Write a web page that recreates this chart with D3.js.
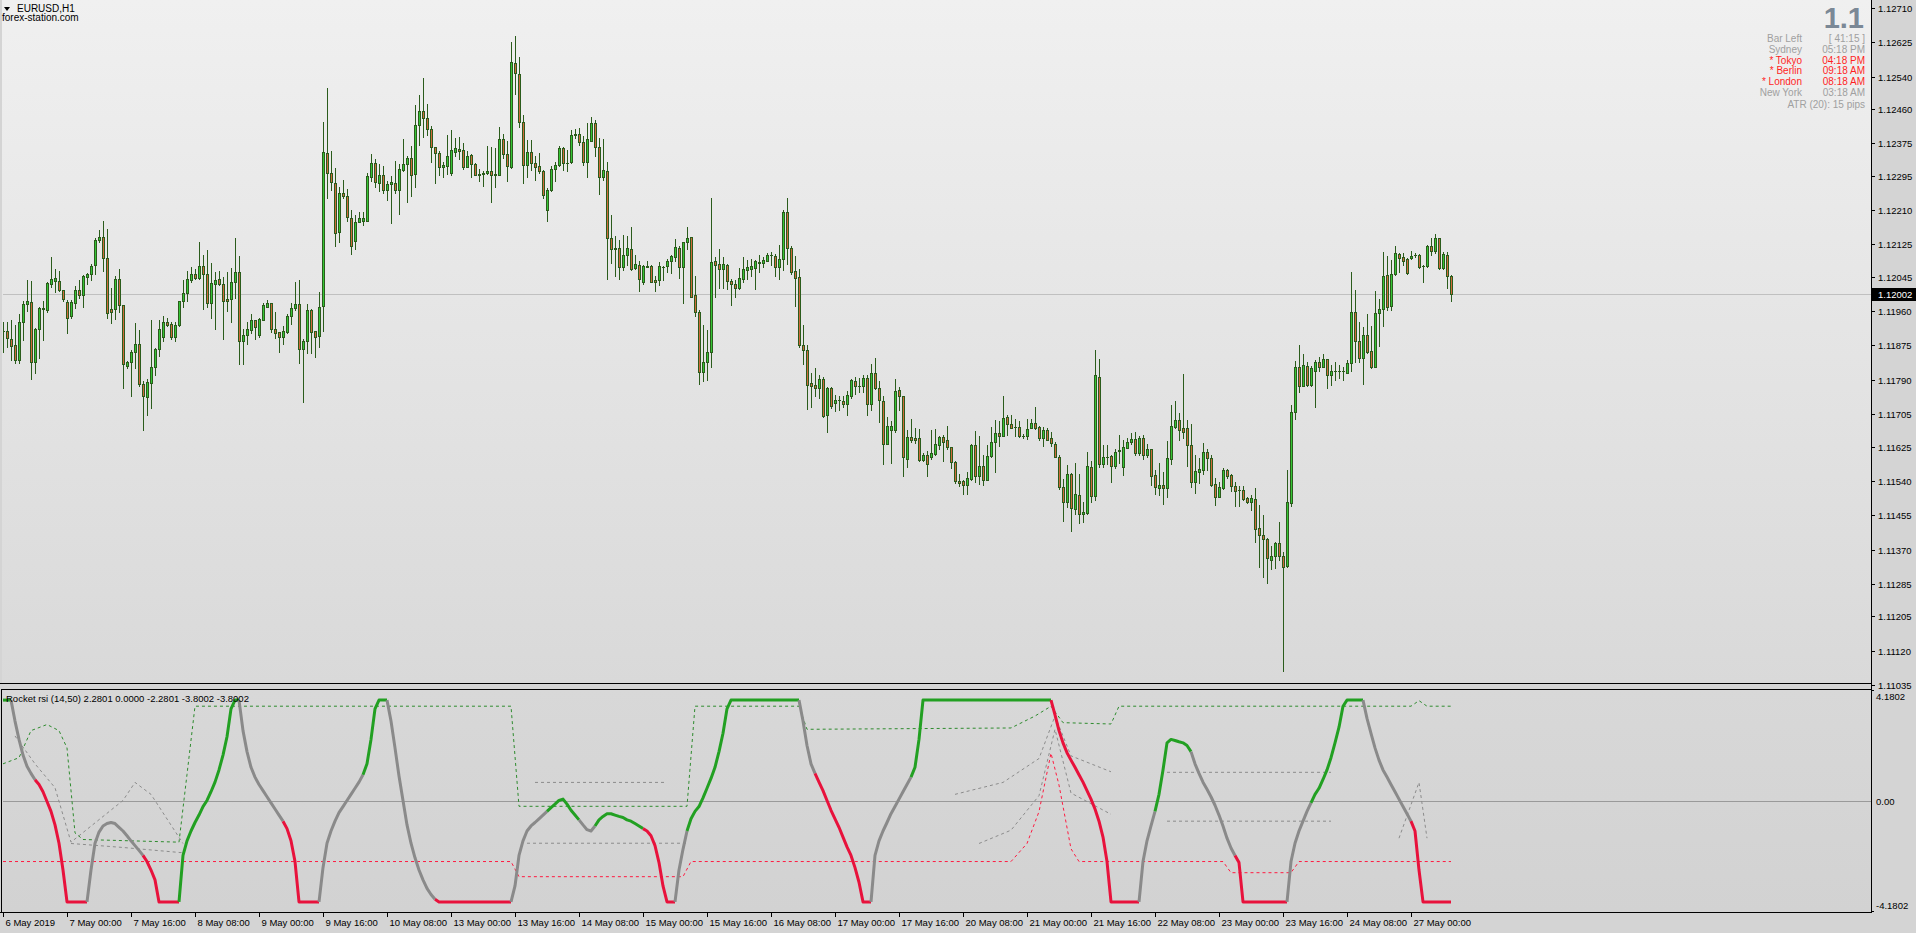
<!DOCTYPE html>
<html><head><meta charset="utf-8">
<script src="https://cdn.jsdelivr.net/npm/d3@7"></script>
<style>
html,body{margin:0;padding:0;background:#d4d4d4;overflow:hidden}
svg{display:block}
text{font-family:"Liberation Sans",Arial,sans-serif}
</style></head><body>
<svg id="c" width="1916" height="933"></svg>
<script>
// ---------------- DATA ----------------
const timeLabels = ["6 May 2019","7 May 00:00","7 May 16:00","8 May 08:00","9 May 00:00","9 May 16:00","10 May 08:00","13 May 00:00","13 May 16:00","14 May 08:00","15 May 00:00","15 May 16:00","16 May 08:00","17 May 00:00","17 May 16:00","20 May 08:00","21 May 00:00","21 May 16:00","22 May 08:00","23 May 00:00","23 May 16:00","24 May 08:00","27 May 00:00"];
const timeLabelBars = [0,16,32,48,64,80,96,112,128,144,160,176,192,208,224,240,256,272,288,304,320,336,352];
const priceTicks = [1.12710,1.12625,1.12540,1.12460,1.12375,1.12295,1.12210,1.12125,1.12045,1.11960,1.11875,1.11790,1.11705,1.11625,1.11540,1.11455,1.11370,1.11285,1.11205,1.11120,1.11035];
const priceTickLabels = ["1.12710","1.12625","1.12540","1.12460","1.12375","1.12295","1.12210","1.12125","1.12045","1.11960","1.11875","1.11790","1.11705","1.11625","1.11540","1.11455","1.11370","1.11285","1.11205","1.11120","1.11035"];
const lastPrice = 1.12002;

const open = [
1.11912,1.11912,1.11890,1.11875,1.11838,1.11934,1.11977,1.11982,1.11834,1.11915,
1.11967,1.11963,1.12027,1.12034,1.12034,1.12012,1.11982,1.11947,1.11981,1.12012,
1.11999,1.12044,1.12053,1.12073,1.12136,1.12143,1.12091,1.11965,1.11965,1.12039,
1.11975,1.11825,1.11834,1.11858,1.11878,1.11779,1.11747,1.11782,1.11821,1.11866,
1.11897,1.11933,1.11928,1.11895,1.11925,1.11984,1.12004,1.12037,1.12051,1.12041,
1.12071,1.12051,1.11980,1.12027,1.12039,1.12027,1.11990,1.11990,1.12032,1.12056,
1.11885,1.11900,1.11914,1.11938,1.11900,1.11938,1.11971,1.11980,1.11915,1.11909,
1.11897,1.11908,1.11947,1.11967,1.11977,1.11867,1.11887,1.11962,1.11910,1.11898,
1.11972,1.12351,1.12301,1.12277,1.12155,1.12252,1.12244,1.12190,1.12133,1.12180,
1.12184,1.12184,1.12293,1.12326,1.12276,1.12297,1.12259,1.12274,1.12277,1.12259,
1.12308,1.12324,1.12339,1.12299,1.12420,1.12456,1.12438,1.12410,1.12366,1.12351,
1.12316,1.12319,1.12301,1.12353,1.12361,1.12358,1.12316,1.12347,1.12324,1.12296,
1.12299,1.12301,1.12307,1.12296,1.12298,1.12386,1.12349,1.12316,1.12575,1.12547,
1.12428,1.12321,1.12353,1.12326,1.12319,1.12306,1.12210,1.12259,1.12311,1.12322,
1.12363,1.12327,1.12328,1.12395,1.12398,1.12378,1.12330,1.12382,1.12425,1.12367,
1.12293,1.12306,1.12141,1.12116,1.12116,1.12068,1.12098,1.12114,1.12066,1.12074,
1.12031,1.12069,1.12072,1.12037,1.12036,1.12069,1.12072,1.12084,1.12095,1.12116,
1.12070,1.12131,1.12143,1.12000,1.11957,1.11809,1.11835,1.11858,1.12084,1.12076,
1.12064,1.12075,1.12035,1.12027,1.12017,1.12040,1.12061,1.12065,1.12066,1.12081,
1.12079,1.12085,1.12098,1.12096,1.12070,1.12089,1.12205,1.12116,1.12060,1.12044,
1.11877,1.11863,1.11782,1.11777,1.11771,1.11792,1.11702,1.11769,1.11732,1.11739,
1.11738,1.11731,1.11749,1.11788,1.11775,1.11775,1.11794,1.11731,1.11807,1.11769,
1.11738,1.11632,1.11667,1.11667,1.11764,1.11750,1.11595,1.11648,1.11646,1.11646,
1.11591,1.11604,1.11598,1.11606,1.11629,1.11649,1.11641,1.11623,1.11586,1.11539,
1.11539,1.11529,1.11545,1.11629,1.11551,1.11576,1.11543,1.11601,1.11636,1.11658,
1.11652,1.11697,1.11681,1.11673,1.11673,1.11652,1.11650,1.11672,1.11683,1.11673,
1.11647,1.11666,1.11646,1.11632,1.11600,1.11524,1.11489,1.11557,1.11471,1.11505,
1.11458,1.11460,1.11575,1.11502,1.11798,1.11582,1.11600,1.11602,1.11576,1.11613,
1.11574,1.11622,1.11635,1.11643,1.11608,1.11646,1.11603,1.11618,1.11555,1.11522,
1.11530,1.11522,1.11593,1.11674,1.11690,1.11670,1.11670,1.11629,1.11537,1.11563,
1.11567,1.11611,1.11596,1.11532,1.11501,1.11522,1.11567,1.11554,1.11528,1.11517,
1.11517,1.11497,1.11489,1.11495,1.11423,1.11406,1.11396,1.11345,1.11353,1.11386,
1.11354,1.11330,1.11486,1.11710,1.11821,1.11776,1.11824,1.11778,1.11811,1.11833,
1.11821,1.11841,1.11802,1.11813,1.11813,1.11811,1.11808,1.11831,1.11957,1.11885,
1.11845,1.11901,1.11862,1.11823,1.11955,1.11965,1.12049,1.11972,1.12052,1.12101,
1.12094,1.12089,1.12091,1.12098,1.12099,1.12071,1.12071,1.12122,1.12108,1.12141,
1.12066,1.12099,1.12046];
const high = [
1.11934,1.11934,1.11938,1.11926,1.11953,1.11984,1.12037,1.12035,1.11918,1.11969,
1.11984,1.12033,1.12094,1.12065,1.12060,1.12013,1.11988,1.11987,1.12023,1.12037,
1.12050,1.12055,1.12076,1.12140,1.12161,1.12182,1.12164,1.12017,1.12046,1.12065,
1.11975,1.11837,1.11864,1.11931,1.11914,1.11787,1.11792,1.11938,1.11868,1.11938,
1.11949,1.11942,1.11933,1.11932,1.11984,1.12038,1.12060,1.12068,1.12064,1.12130,
1.12099,1.12112,1.12079,1.12058,1.12060,1.12044,1.12058,1.12066,1.12140,1.12097,
1.11916,1.11934,1.11953,1.11938,1.11942,1.11981,1.11987,1.11981,1.11957,1.11909,
1.11923,1.11952,1.11979,1.12033,1.12036,1.11891,1.11978,1.11965,1.11911,1.12008,
1.12429,1.12513,1.12357,1.12315,1.12268,1.12285,1.12263,1.12211,1.12198,1.12206,
1.12206,1.12301,1.12349,1.12337,1.12324,1.12320,1.12281,1.12295,1.12332,1.12324,
1.12386,1.12343,1.12369,1.12471,1.12495,1.12537,1.12473,1.12417,1.12367,1.12355,
1.12330,1.12396,1.12409,1.12388,1.12390,1.12376,1.12355,1.12349,1.12326,1.12311,
1.12307,1.12369,1.12365,1.12364,1.12415,1.12398,1.12380,1.12626,1.12640,1.12589,
1.12446,1.12384,1.12384,1.12343,1.12351,1.12310,1.12264,1.12320,1.12330,1.12369,
1.12367,1.12358,1.12409,1.12410,1.12413,1.12394,1.12425,1.12440,1.12433,1.12388,
1.12386,1.12329,1.12198,1.12146,1.12136,1.12149,1.12145,1.12169,1.12099,1.12085,
1.12075,1.12085,1.12075,1.12046,1.12081,1.12071,1.12089,1.12099,1.12138,1.12122,
1.12132,1.12169,1.12143,1.12047,1.11963,1.11926,1.11914,1.12240,1.12094,1.12114,
1.12095,1.12077,1.12039,1.12037,1.12066,1.12095,1.12087,1.12089,1.12087,1.12098,
1.12093,1.12103,1.12106,1.12101,1.12124,1.12211,1.12240,1.12122,1.12097,1.12065,
1.11926,1.11875,1.11806,1.11819,1.11801,1.11798,1.11773,1.11772,1.11752,1.11751,
1.11751,1.11762,1.11792,1.11798,1.11794,1.11802,1.11802,1.11830,1.11844,1.11787,
1.11749,1.11699,1.11689,1.11792,1.11773,1.11750,1.11666,1.11693,1.11671,1.11669,
1.11610,1.11613,1.11666,1.11668,1.11651,1.11654,1.11675,1.11625,1.11590,1.11557,
1.11542,1.11563,1.11631,1.11664,1.11651,1.11603,1.11629,1.11673,1.11691,1.11689,
1.11750,1.11703,1.11702,1.11693,1.11687,1.11656,1.11693,1.11693,1.11722,1.11676,
1.11673,1.11670,1.11660,1.11635,1.11603,1.11545,1.11579,1.11559,1.11584,1.11557,
1.11487,1.11611,1.11588,1.11864,1.11842,1.11629,1.11629,1.11604,1.11619,1.11654,
1.11640,1.11646,1.11658,1.11660,1.11652,1.11654,1.11632,1.11619,1.11567,1.11584,
1.11563,1.11639,1.11728,1.11738,1.11707,1.11804,1.11691,1.11681,1.11604,1.11596,
1.11633,1.11619,1.11603,1.11547,1.11538,1.11571,1.11570,1.11557,1.11538,1.11528,
1.11528,1.11501,1.11505,1.11522,1.11481,1.11456,1.11398,1.11379,1.11390,1.11439,
1.11363,1.11567,1.11728,1.11837,1.11877,1.11854,1.11835,1.11825,1.11840,1.11847,
1.11854,1.11842,1.11827,1.11833,1.11827,1.11823,1.11840,1.12056,1.12013,1.11934,
1.11920,1.11953,1.11924,1.12009,1.11990,1.12106,1.12097,1.12087,1.12122,1.12104,
1.12104,1.12091,1.12109,1.12104,1.12101,1.12075,1.12124,1.12142,1.12151,1.12142,
1.12106,1.12106,1.12050];
const low = [
1.11858,1.11871,1.11838,1.11831,1.11831,1.11889,1.11961,1.11792,1.11806,1.11845,
1.11889,1.11959,1.12019,1.12008,1.12011,1.11985,1.11905,1.11942,1.11967,1.11992,
1.11970,1.12027,1.12037,1.12051,1.12132,1.12060,1.11942,1.11930,1.11940,1.11957,
1.11771,1.11820,1.11749,1.11819,1.11775,1.11665,1.11702,1.11720,1.11802,1.11850,
1.11885,1.11923,1.11890,1.11886,1.11924,1.11970,1.11985,1.12032,1.12040,1.12040,
1.11965,1.11970,1.11942,1.11915,1.12025,1.11890,1.11961,1.11934,1.11992,1.11828,
1.11829,1.11878,1.11905,1.11891,1.11897,1.11937,1.11970,1.11909,1.11893,1.11858,
1.11879,1.11905,1.11928,1.11962,1.11831,1.11735,1.11857,1.11857,1.11846,1.11871,
1.11912,1.12239,1.12259,1.12121,1.12132,1.12239,1.12182,1.12101,1.12114,1.12182,
1.12173,1.12182,1.12283,1.12268,1.12256,1.12252,1.12234,1.12177,1.12252,1.12200,
1.12307,1.12231,1.12246,1.12266,1.12370,1.12390,1.12395,1.12330,1.12278,1.12297,
1.12293,1.12300,1.12297,1.12343,1.12337,1.12311,1.12316,1.12291,1.12296,1.12283,
1.12270,1.12300,1.12229,1.12266,1.12298,1.12340,1.12281,1.12314,1.12498,1.12415,
1.12278,1.12293,1.12310,1.12285,1.12301,1.12241,1.12184,1.12256,1.12283,1.12318,
1.12310,1.12306,1.12326,1.12388,1.12372,1.12322,1.12293,1.12382,1.12343,1.12251,
1.12285,1.12039,1.12080,1.12046,1.12039,1.12062,1.12075,1.12062,1.12064,1.12011,
1.12028,1.12069,1.12031,1.12009,1.12025,1.12036,1.12058,1.12054,1.12085,1.12043,
1.11980,1.12114,1.11995,1.11947,1.11779,1.11786,1.11790,1.11823,1.11995,1.12017,
1.12017,1.12014,1.11975,1.11994,1.12014,1.12033,1.12039,1.12047,1.12015,1.12058,
1.12070,1.12083,1.12075,1.12046,1.12040,1.12062,1.12077,1.12052,1.11973,1.11872,
1.11830,1.11718,1.11724,1.11749,1.11745,1.11699,1.11662,1.11721,1.11712,1.11716,
1.11723,1.11704,1.11746,1.11755,1.11759,1.11761,1.11704,1.11716,1.11767,1.11686,
1.11582,1.11632,1.11585,1.11662,1.11716,1.11552,1.11575,1.11637,1.11633,1.11590,
1.11590,1.11551,1.11594,1.11604,1.11620,1.11590,1.11619,1.11573,1.11534,1.11528,
1.11507,1.11507,1.11542,1.11538,1.11532,1.11530,1.11542,1.11599,1.11563,1.11627,
1.11650,1.11654,1.11670,1.11650,1.11648,1.11646,1.11644,1.11670,1.11669,1.11641,
1.11627,1.11640,1.11627,1.11598,1.11520,1.11441,1.11476,1.11417,1.11458,1.11437,
1.11438,1.11458,1.11488,1.11493,1.11575,1.11575,1.11582,1.11538,1.11573,1.11584,
1.11555,1.11621,1.11631,1.11604,1.11604,1.11594,1.11600,1.11530,1.11507,1.11504,
1.11484,1.11501,1.11581,1.11670,1.11641,1.11646,1.11576,1.11526,1.11510,1.11534,
1.11557,1.11567,1.11528,1.11481,1.11501,1.11520,1.11547,1.11516,1.11478,1.11478,
1.11492,1.11486,1.11467,1.11390,1.11328,1.11301,1.11288,1.11321,1.11324,1.11345,
1.11070,1.11328,1.11477,1.11693,1.11759,1.11774,1.11776,1.11776,1.11724,1.11811,
1.11821,1.11771,1.11778,1.11790,1.11795,1.11790,1.11807,1.11812,1.11835,1.11835,
1.11780,1.11856,1.11819,1.11823,1.11874,1.11924,1.11963,1.11963,1.12050,1.12058,
1.12075,1.12052,1.12088,1.12094,1.12066,1.12031,1.12070,1.12099,1.12105,1.12065,
1.12064,1.12017,1.11984];
const close = [
1.11912,1.11893,1.11874,1.11838,1.11934,1.11977,1.11984,1.11834,1.11915,1.11967,
1.11965,1.12029,1.12039,1.12041,1.12013,1.11990,1.11942,1.11982,1.12012,1.11999,
1.12046,1.12053,1.12071,1.12136,1.12143,1.12091,1.11955,1.11957,1.12039,1.11975,
1.11829,1.11834,1.11858,1.11878,1.11779,1.11749,1.11784,1.11821,1.11866,1.11915,
1.11933,1.11926,1.11895,1.11926,1.11984,1.12004,1.12039,1.12051,1.12041,1.12071,
1.12051,1.11980,1.12029,1.12037,1.12027,1.11984,1.11986,1.12032,1.12056,1.11885,
1.11901,1.11915,1.11938,1.11920,1.11940,1.11975,1.11980,1.11915,1.11905,1.11895,
1.11910,1.11948,1.11967,1.11977,1.11866,1.11885,1.11962,1.11909,1.11895,1.11970,
1.12353,1.12301,1.12279,1.12153,1.12252,1.12244,1.12192,1.12120,1.12180,1.12190,
1.12190,1.12294,1.12326,1.12279,1.12297,1.12259,1.12274,1.12279,1.12259,1.12311,
1.12324,1.12339,1.12296,1.12420,1.12456,1.12438,1.12410,1.12367,1.12351,1.12316,
1.12322,1.12344,1.12358,1.12364,1.12355,1.12316,1.12344,1.12324,1.12296,1.12299,
1.12301,1.12307,1.12296,1.12299,1.12386,1.12349,1.12318,1.12576,1.12549,1.12428,
1.12321,1.12353,1.12326,1.12316,1.12306,1.12247,1.12259,1.12311,1.12321,1.12363,
1.12326,1.12327,1.12396,1.12398,1.12378,1.12330,1.12386,1.12425,1.12367,1.12293,
1.12310,1.12142,1.12113,1.12113,1.12070,1.12098,1.12116,1.12064,1.12076,1.12039,
1.12072,1.12071,1.12033,1.12032,1.12071,1.12069,1.12085,1.12096,1.12118,1.12070,
1.12132,1.12141,1.11996,1.11957,1.11809,1.11835,1.11858,1.12081,1.12073,1.12064,
1.12077,1.12035,1.12027,1.12017,1.12042,1.12065,1.12069,1.12072,1.12085,1.12079,
1.12087,1.12099,1.12098,1.12070,1.12089,1.12205,1.12116,1.12058,1.12043,1.11875,
1.11863,1.11778,1.11775,1.11771,1.11792,1.11701,1.11769,1.11726,1.11740,1.11739,
1.11731,1.11752,1.11790,1.11775,1.11775,1.11794,1.11731,1.11807,1.11769,1.11739,
1.11632,1.11675,1.11675,1.11763,1.11749,1.11598,1.11648,1.11641,1.11641,1.11591,
1.11604,1.11583,1.11608,1.11631,1.11649,1.11637,1.11623,1.11586,1.11539,1.11536,
1.11529,1.11547,1.11629,1.11551,1.11576,1.11543,1.11601,1.11636,1.11658,1.11652,
1.11695,1.11680,1.11672,1.11673,1.11650,1.11652,1.11669,1.11683,1.11672,1.11646,
1.11666,1.11642,1.11633,1.11600,1.11524,1.11489,1.11557,1.11472,1.11507,1.11458,
1.11462,1.11576,1.11502,1.11802,1.11582,1.11600,1.11600,1.11576,1.11611,1.11616,
1.11623,1.11636,1.11643,1.11608,1.11646,1.11604,1.11618,1.11553,1.11524,1.11530,
1.11522,1.11596,1.11675,1.11690,1.11665,1.11662,1.11628,1.11538,1.11565,1.11570,
1.11611,1.11596,1.11530,1.11501,1.11524,1.11567,1.11551,1.11528,1.11516,1.11517,
1.11495,1.11489,1.11497,1.11422,1.11405,1.11396,1.11349,1.11354,1.11386,1.11353,
1.11328,1.11488,1.11710,1.11821,1.11774,1.11826,1.11778,1.11819,1.11833,1.11821,
1.11841,1.11803,1.11812,1.11813,1.11813,1.11811,1.11831,1.11957,1.11885,1.11845,
1.11901,1.11858,1.11823,1.11955,1.11965,1.12047,1.11969,1.12052,1.12104,1.12091,
1.12085,1.12054,1.12096,1.12098,1.12068,1.12071,1.12122,1.12108,1.12141,1.12066,
1.12101,1.12046,1.12002];

// Rocket RSI main line (clipped at +/-3.8002)
const rocketRsi = [
3.80,3.80,3.80,3.01,2.32,1.73,1.31,1.04,0.80,0.62,
0.35,-0.02,-0.39,-0.90,-1.59,-2.60,-3.80,-3.80,-3.80,-3.80,
-3.80,-3.80,-2.60,-1.59,-1.17,-0.94,-0.85,-0.81,-0.85,-0.99,
-1.13,-1.31,-1.50,-1.68,-1.86,-2.05,-2.28,-2.60,-2.97,-3.80,
-3.80,-3.80,-3.80,-3.80,-3.80,-2.05,-1.50,-1.13,-0.81,-0.53,
-0.21,0.02,0.35,0.71,1.17,1.73,2.42,3.47,3.80,3.80,
2.65,1.86,1.27,0.90,0.62,0.39,0.16,-0.07,-0.30,-0.53,
-0.76,-1.04,-1.50,-2.28,-3.80,-3.80,-3.80,-3.80,-3.80,-3.80,
-2.51,-1.59,-1.13,-0.76,-0.44,-0.21,0.02,0.25,0.48,0.71,
0.99,1.40,2.32,3.47,3.80,3.80,3.80,3.01,2.00,0.94,
0.02,-0.90,-1.59,-2.14,-2.60,-2.97,-3.29,-3.52,-3.70,-3.80,
-3.80,-3.80,-3.80,-3.80,-3.80,-3.80,-3.80,-3.80,-3.80,-3.80,
-3.80,-3.80,-3.80,-3.80,-3.80,-3.80,-3.80,-3.80,-3.20,-2.05,
-1.50,-1.13,-0.94,-0.81,-0.67,-0.53,-0.39,-0.25,-0.12,0.02,
0.07,-0.12,-0.35,-0.53,-0.71,-0.90,-1.08,-1.13,-0.94,-0.71,
-0.58,-0.48,-0.48,-0.53,-0.58,-0.62,-0.71,-0.76,-0.85,-0.94,
-1.04,-1.13,-1.31,-1.68,-2.32,-3.20,-3.80,-3.80,-3.80,-2.60,
-1.82,-1.13,-0.67,-0.39,-0.21,0.12,0.48,0.85,1.27,1.86,
2.55,3.47,3.80,3.80,3.80,3.80,3.80,3.80,3.80,3.80,
3.80,3.80,3.80,3.80,3.80,3.80,3.80,3.80,3.80,3.80,
3.01,2.09,1.40,1.04,0.71,0.39,0.02,-0.35,-0.67,-0.99,
-1.36,-1.73,-2.05,-2.51,-3.06,-3.80,-3.80,-3.80,-2.05,-1.50,
-1.13,-0.81,-0.48,-0.21,0.07,0.35,0.62,0.90,1.27,2.32,
3.80,3.80,3.80,3.80,3.80,3.80,3.80,3.80,3.80,3.80,
3.80,3.80,3.80,3.80,3.80,3.80,3.80,3.80,3.80,3.80,
3.80,3.80,3.80,3.80,3.80,3.80,3.80,3.80,3.80,3.80,
3.80,3.80,3.80,3.24,2.65,2.19,1.82,1.54,1.27,0.99,
0.71,0.39,0.07,-0.30,-0.76,-1.36,-2.28,-3.80,-3.80,-3.80,
-3.80,-3.80,-3.80,-3.80,-3.80,-2.28,-1.50,-0.94,-0.39,0.25,
1.17,2.19,2.32,2.28,2.23,2.19,2.09,1.86,1.40,1.04,
0.71,0.44,0.16,-0.16,-0.53,-0.94,-1.40,-1.77,-2.05,-2.32,
-3.80,-3.80,-3.80,-3.80,-3.80,-3.80,-3.80,-3.80,-3.80,-3.80,
-3.80,-3.80,-2.28,-1.59,-1.13,-0.76,-0.39,-0.07,0.25,0.48,
0.81,1.17,1.63,2.19,2.78,3.57,3.80,3.80,3.80,3.80,
3.80,3.11,2.55,2.00,1.54,1.17,0.90,0.62,0.35,0.07,
-0.21,-0.48,-0.76,-1.13,-2.60,-3.80,-3.80,-3.80,-3.80,-3.80,
-3.80,-3.80,-3.80];

// colour state of the main line: [firstBar, lastBar, state]
const trendRuns = [[0,2,"up"],[3,8,"flat"],[9,21,"down"],[22,35,"flat"],[36,44,"down"],[45,59,"up"],[60,70,"flat"],[71,79,"down"],[80,90,"flat"],[91,96,"up"],[97,108,"flat"],[109,127,"down"],[128,136,"flat"],[137,144,"up"],[145,148,"flat"],[149,160,"up"],[161,168,"down"],[169,171,"flat"],[172,199,"up"],[200,203,"flat"],[204,217,"down"],[218,227,"flat"],[228,262,"up"],[263,284,"down"],[285,288,"flat"],[289,297,"up"],[298,308,"flat"],[309,321,"down"],[322,327,"flat"],[328,340,"up"],[341,352,"flat"],[353,362,"down"]];

// floating levels: [bar, value]
const upperLevelPts = [[0,1.4],[4,1.63],[7,2.65],[11,2.88],[14,2.65],[16,2.0],[18,-1.2],[20,-1.45],[44,-1.55],[46,1.0],[48,3.57],[127,3.57],[129,-0.2],[171,-0.2],[173,3.57],[199,3.57],[201,2.7],[252,2.75],[258,3.2],[262,3.57],[265,2.95],[277,2.9],[279,3.57],[352,3.57],[354,3.78],[356,3.57],[362,3.57]];
const lowerLevelPts = [[0,-2.28],[127,-2.28],[129,-2.85],[170,-2.85],[172,-2.28],[252,-2.28],[256,-1.6],[259,-0.4],[262,1.8],[264,0.6],[267,-1.8],[269,-2.28],[305,-2.28],[307,-2.7],[322,-2.7],[324,-2.28],[362,-2.28]];
const midUpperPts = [[3,2.45],[8,1.4],[13,0.5],[17,-1.55],[30,0.02],[33,0.7],[37,0.25],[45,-1.6],
                     null,[133,0.7],[166,0.7],
                     null,[238,0.25],[250,0.7],[259,1.6],[263,3.2],[267,1.7],[277,1.1],
                     null,[291,1.08],[332,1.08],
                     null,[349,-1.4],[354,0.7],[356,-1.4]];
const midLowerPts = [[17,-1.6],[30,-1.75],[45,-1.95],
                     null,[131,-1.59],[171,-1.59],
                     null,[244,-1.6],[252,-1.1],[259,0.2],[263,2.7],[267,0.3],[277,-0.5],
                     null,[291,-0.76],[332,-0.76]];

const infoRows = [
 ["Bar Left","[ 41:15 ]",false],["Sydney","05:18 PM",false],["* Tokyo","04:18 PM",true],
 ["* Berlin","09:18 AM",true],["* London","08:18 AM",true],["New York","03:18 AM",false]];
const atrText = "ATR (20): 15 pips";
const indTitle = "Rocket rsi (14,50) 2.2801 0.0000 -2.2801 -3.8002 -3.8002";
const indMax = 4.1802;

// ---------------- LAYOUT ----------------
const svg = d3.select("#c");
const PL = 2, PR = 1871, MT = 0, MB = 683, IT = 689, IB = 912;
const n = close.length;
const FS = "9.5px";

const defs = svg.append("defs");
const g1 = defs.append("linearGradient").attr("id","gMain").attr("x1",0).attr("y1",0).attr("x2",0).attr("y2",1);
g1.append("stop").attr("offset","0%").attr("stop-color","#f0f0f0");
g1.append("stop").attr("offset","100%").attr("stop-color","#d9d9d9");
const g2 = defs.append("linearGradient").attr("id","gInd").attr("x1",0).attr("y1",0).attr("x2",0).attr("y2",1);
g2.append("stop").attr("offset","0%").attr("stop-color","#d8d8d8");
g2.append("stop").attr("offset","100%").attr("stop-color","#d2d2d2");
defs.append("clipPath").attr("id","clipMain").append("rect").attr("x",PL+1).attr("y",MT).attr("width",PR-PL-1).attr("height",MB-MT);
defs.append("clipPath").attr("id","clipInd").append("rect").attr("x",PL+1).attr("y",IT+1).attr("width",PR-PL-1).attr("height",IB-IT-1);

svg.append("rect").attr("width",1916).attr("height",933).attr("fill","#d4d4d4");
svg.append("rect").attr("x",PL).attr("y",MT).attr("width",PR-PL).attr("height",MB-MT).attr("fill","url(#gMain)");
svg.append("rect").attr("x",PL).attr("y",IT).attr("width",PR-PL).attr("height",IB-IT).attr("fill","url(#gInd)");

const x = d3.scaleLinear().domain([0, n-1]).range([3, 3 + 4*(n-1)]);
const y = d3.scaleLinear().domain([1.11035, 1.12710]).range([685, 8]);
const yi = d3.scaleLinear().domain([-indMax, indMax]).range([IB, IT+1]);

// last price line
const main = svg.append("g").attr("clip-path","url(#clipMain)");
main.append("line").attr("x1",PL).attr("x2",PR).attr("y1",Math.round(y(lastPrice))+0.5).attr("y2",Math.round(y(lastPrice))+0.5)
  .attr("stroke","#c0c0c0").attr("stroke-width",1);

// candles
const WICK = "#2b5c1c", UPF = "#35c535", DNF = "#cf6a3a";
const cg = main.append("g").attr("shape-rendering","crispEdges");
for (let i = 0; i < n; i++) {
  const cx = Math.round(x(i));
  const yh = Math.round(y(high[i])), yl = Math.round(y(low[i]));
  const yo = Math.round(y(open[i])), yc = Math.round(y(close[i]));
  cg.append("rect").attr("x",cx).attr("y",yh).attr("width",1).attr("height",Math.max(1,yl-yh+1)).attr("fill",WICK);
  const top = Math.min(yo,yc), bot = Math.max(yo,yc);
  const up = close[i] >= open[i];
  cg.append("rect").attr("x",cx-1).attr("y",top).attr("width",3).attr("height",Math.max(1,bot-top+1)).attr("fill",WICK);
  if (bot - top >= 2) {
    cg.append("rect").attr("x",cx).attr("y",top+1).attr("width",1).attr("height",bot-top-1).attr("fill", up ? UPF : DNF);
  }
}

// ---------------- INDICATOR ----------------
const ind = svg.append("g").attr("clip-path","url(#clipInd)");
ind.append("line").attr("x1",PL).attr("x2",PR).attr("y1",Math.round(yi(0))+0.5).attr("y2",Math.round(yi(0))+0.5)
  .attr("stroke","#9a9a9a").attr("stroke-width",1);

const lvLine = d3.line().defined(d=>d!==null).x(d=>x(d[0])).y(d=>yi(d[1]));
[[midUpperPts,"#8c8c8c"],[midLowerPts,"#8c8c8c"],[upperLevelPts,"#2e8b2e"],[lowerLevelPts,"#ff1a40"]].forEach(s=>{
  ind.append("path").attr("d",lvLine(s[0])).attr("fill","none")
    .attr("stroke",s[1]).attr("stroke-width",1).attr("stroke-dasharray","3,3");
});

const colorOf = {up:"#22a022", down:"#e8123c", flat:"#8a8a8a"};
const mLine = d3.line().x(i=>x(i)).y(i=>yi(rocketRsi[i]));
trendRuns.forEach(r=>{
  const idx = d3.range(Math.max(0,r[0]-1), r[1]+1);
  ind.append("path").attr("d",mLine(idx)).attr("fill","none")
    .attr("stroke",colorOf[r[2]]).attr("stroke-width",3).attr("stroke-linejoin","round");
});

// ---------------- FRAMES / AXES ----------------
const fr = svg.append("g").attr("shape-rendering","crispEdges").attr("fill","none").attr("stroke","#000");
fr.append("line").attr("x1",PR+0.5).attr("x2",PR+0.5).attr("y1",0).attr("y2",IB+1);
fr.append("line").attr("x1",PL-0.5).attr("x2",PL-0.5).attr("y1",IT).attr("y2",IB+1);
fr.append("line").attr("x1",0).attr("x2",PR+1).attr("y1",MB+0.5).attr("y2",MB+0.5);
fr.append("line").attr("x1",PL-1).attr("x2",PR+1).attr("y1",IT+0.5).attr("y2",IT+0.5);
fr.append("line").attr("x1",0).attr("x2",PR+1).attr("y1",IB+0.5).attr("y2",IB+0.5);

// price axis
const pa = svg.append("g");
priceTicks.forEach((p,k)=>{
  const yy = Math.round(y(p))+0.5;
  pa.append("line").attr("x1",PR).attr("x2",PR+4).attr("y1",yy).attr("y2",yy).attr("stroke","#000").attr("shape-rendering","crispEdges");
  pa.append("text").attr("x",PR+7).attr("y",yy+3.5).attr("font-size",FS).attr("fill","#000").text(priceTickLabels[k]);
});
const ly = Math.round(y(lastPrice));
pa.append("rect").attr("x",PR+1).attr("y",ly-6).attr("width",1916-PR-1).attr("height",13).attr("fill","#000");
pa.append("text").attr("x",PR+7).attr("y",ly+4).attr("font-size",FS).attr("fill","#fff").text(lastPrice.toFixed(5));

[[indMax,"4.1802",IT+11],[0,"0.00",Math.round(yi(0))+4],[-indMax,"-4.1802",IB-3]].forEach(d=>{
  pa.append("text").attr("x",PR+5).attr("y",d[2]).attr("font-size",FS).attr("fill","#000").text(d[1]);
});
pa.append("line").attr("x1",PR).attr("x2",PR+3).attr("y1",IT+1.5).attr("y2",IT+1.5).attr("stroke","#000");
pa.append("line").attr("x1",PR).attr("x2",PR+3).attr("y1",IB-0.5).attr("y2",IB-0.5).attr("stroke","#000");

// time axis
const ta = svg.append("g");
timeLabelBars.forEach((b,k)=>{
  const xx = Math.round(x(b))+0.5;
  ta.append("line").attr("x1",xx).attr("x2",xx).attr("y1",IB+1).attr("y2",IB+5).attr("stroke","#000").attr("shape-rendering","crispEdges");
  ta.append("text").attr("x",xx+2).attr("y",IB+14).attr("font-size",FS).attr("fill","#000").text(timeLabels[k]);
});

// ---------------- TEXTS ----------------
svg.append("path").attr("d","M4,7 L10,7 L7,11 Z").attr("fill","#000");
svg.append("text").attr("x",17).attr("y",12).attr("font-size","10px").attr("fill","#000").text("EURUSD,H1");
svg.append("text").attr("x",2).attr("y",21).attr("font-size","10px").attr("fill","#000").text("forex-station.com");
svg.append("text").attr("x",6).attr("y",IT+13).attr("font-size",FS).attr("fill","#000").text(indTitle);

svg.append("text").attr("x",1864).attr("y",28).attr("text-anchor","end").attr("font-size","29px").attr("font-weight","bold").attr("fill","#7b8896").text("1.1");
infoRows.forEach((r,k)=>{
  const yy = 42 + k*10.8;
  const col = r[2] ? "#ff1f1f" : "#a0a0a0";
  svg.append("text").attr("x",1802).attr("y",yy).attr("text-anchor","end").attr("font-size","10px").attr("fill",col).text(r[0]);
  svg.append("text").attr("x",1865).attr("y",yy).attr("text-anchor","end").attr("font-size","10px").attr("fill",col).text(r[1]);
});
svg.append("text").attr("x",1865).attr("y",42+6*10.8+1).attr("text-anchor","end").attr("font-size","10px").attr("fill","#a0a0a0").text(atrText);
</script>
</body></html>
